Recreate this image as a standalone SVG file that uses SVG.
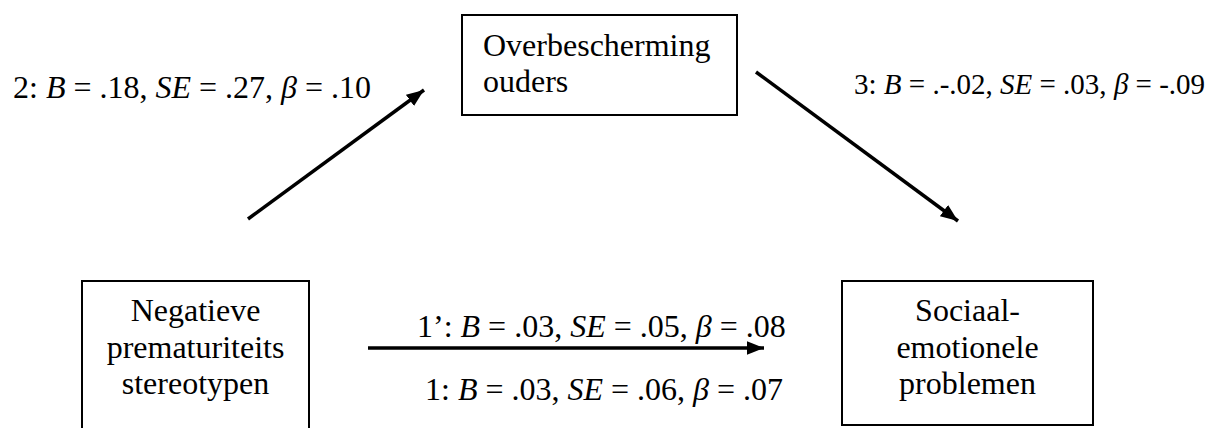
<svg xmlns="http://www.w3.org/2000/svg" width="1215" height="428" viewBox="0 0 1215 428">
<style>
text { font-family: "Liberation Serif", "Times New Roman", serif; font-size: 32px; fill: #000; }
.i { font-style: italic; }
.box { fill: #fff; stroke: #000; stroke-width: 2; }
.c { text-anchor: middle; }
.edge { stroke: #000; stroke-width: 3.5; fill: none; marker-end: url(#ah); }
</style>
<defs>
<marker id="ah" markerWidth="6" markerHeight="4" refX="5" refY="2" orient="auto" markerUnits="strokeWidth">
<path d="M0,0 L5,2 L0,4 Z" fill="#000"/>
</marker>
</defs>
<rect width="1215" height="428" fill="#fff"/>
<g id="node-overbescherming">
<rect class="box" x="462" y="15" width="275" height="100"/>
<text x="483" y="56">Overbescherming</text>
<text x="483" y="92">ouders</text>
</g>
<g id="node-negatieve">
<rect class="box" x="82" y="281" width="227" height="160"/>
<text class="c" x="195.5" y="321">Negatieve</text>
<text class="c" x="195.5" y="358">prematuriteits</text>
<text class="c" x="195.5" y="394">stereotypen</text>
</g>
<g id="node-sociaal">
<rect class="box" x="842" y="281" width="251" height="144"/>
<text class="c" x="967.5" y="321">Sociaal-</text>
<text class="c" x="967.5" y="358">emotionele</text>
<text class="c" x="967.5" y="394">problemen</text>
</g>
<g id="connectors">
<line class="edge" x1="248" y1="219" x2="424" y2="90"/>
<line class="edge" x1="756" y1="72" x2="958" y2="221"/>
<line class="edge" x1="368" y1="348" x2="764" y2="348"/>
</g>
<g id="labels">
<text x="13" y="98">2: <tspan class="i">B</tspan> = .18, <tspan class="i">SE</tspan> = .27, <tspan class="i">β</tspan> = .10</text>
<text x="854" y="94" style="font-size:29px">3: <tspan class="i">B</tspan> = .-.02, <tspan class="i">SE</tspan> = .03, <tspan class="i">β</tspan> = -.09</text>
<text x="417" y="337">1’: <tspan class="i">B</tspan> = .03, <tspan class="i">SE</tspan> = .05, <tspan class="i">β</tspan> = .08</text>
<text x="425" y="400">1: <tspan class="i">B</tspan> = .03, <tspan class="i">SE</tspan> = .06, <tspan class="i">β</tspan> = .07</text>
</g>
</svg>
